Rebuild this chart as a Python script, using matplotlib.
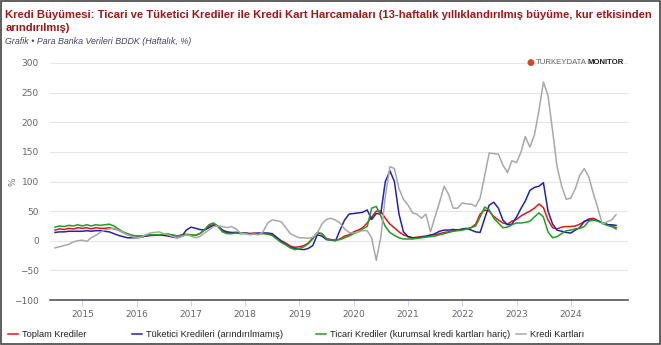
import matplotlib
matplotlib.use("Agg")
import matplotlib.pyplot as plt
import matplotlib.dates as mdates
from matplotlib.patches import Rectangle
import pandas as pd

# ---- data (monthly readings, Jul 2014 - Nov 2024) ----
dates = pd.date_range("2014-07-01", "2024-11-01", freq="MS")

toplam = [
    18, 20, 19, 21, 20, 22,
    21, 22, 20, 22, 21, 21, 22, 20, 18, 14, 11, 9,
    8, 7, 8, 9, 9, 10, 10, 11, 9, 8, 10, 11,
    10, 9, 12, 18, 25, 27, 24, 16, 13, 13, 14, 13,
    13, 12, 13, 12, 13, 12, 10, 5, 0, -4, -9, -11,
    -10, -8, -4, 5, 13, 12, 4, 2, 1, 3, 8, 10,
    15, 18, 22, 30, 40, 50, 50, 38, 28, 22, 15, 10,
    7, 5, 6, 7, 8, 10, 10, 12, 14, 15, 17, 18,
    19, 20, 22, 28, 45, 52, 50, 41, 35, 30, 28, 33,
    36, 42, 46, 50, 55, 62, 56, 35, 22, 20, 23, 24,
    24, 25, 28, 32, 37, 38, 34, 30, 28, 25, 22,
]
tuketici = [
    14, 15, 15, 16, 16, 16,
    16, 17, 16, 17, 17, 16, 15, 12, 9, 7, 5, 5,
    5, 6, 8, 9, 10, 10, 9, 8, 6, 5, 8, 18,
    23, 21, 19, 18, 22, 26, 25, 18, 15, 14, 14, 13,
    13, 12, 12, 13, 13, 13, 12, 6, -1, -6, -11, -13,
    -14, -15, -13, -8, 10, 8, 2, 1, 0, 18, 35, 45,
    46, 47, 48, 52, 36, 46, 45, 100, 118, 100, 45, 15,
    7, 5, 5, 6, 7, 9, 12, 16, 18, 18, 19, 18,
    20, 21, 18, 15, 14, 38, 60, 65, 55, 35, 27, 28,
    40, 55, 67, 85, 90, 92, 98, 50, 28, 18, 16, 14,
    13, 18, 22, 33, 35, 35, 34, 30, 27, 27, 26,
]
ticari = [
    23, 25, 24, 26, 25, 27,
    25, 27, 25, 27, 26, 27, 28, 25, 20, 15, 12, 9,
    8, 8, 9, 10, 10, 10, 11, 11, 10, 8, 9, 10,
    10, 9, 12, 18, 27, 30, 25, 15, 12, 12, 13, 12,
    12, 11, 12, 11, 12, 11, 9, 3, -3, -7, -12, -15,
    -13, -10, -5, 3, 14, 12, 3, 1, 1, 2, 5, 8,
    12, 15, 20, 24, 55, 58, 42, 24, 14, 9, 5, 3,
    3, 3, 4, 5, 6, 7, 8, 10, 12, 14, 16, 17,
    18, 20, 22, 25, 40, 57, 52, 38, 30, 22, 23, 27,
    30, 30, 31, 33, 40, 47, 40, 15, 5, 7, 12, 17,
    18, 20, 21, 24, 33, 35, 33, 30, 26, 24, 20,
]
kredi_kartlari = [
    -12, -10, -8, -6, -2, 0,
    1, -1, 5, 9, 14, 18, 20, 21, 18, 14, 10, 7,
    5, 6, 10, 13, 14, 15, 12, 10, 7, 5, 7, 10,
    8, 5, 7, 13, 18, 24, 25, 24, 22, 24, 20, 13,
    12, 10, 11, 10, 15, 30, 35, 34, 32, 22, 12, 8,
    5, 5, 4, 6, 13, 28, 36, 38, 35, 30, 20, 14,
    13, 15, 17, 17, 5, -33, 5, 75, 125, 122, 88, 70,
    60, 47, 45, 38, 45, 15, 40, 65, 92, 78, 55, 55,
    64, 62, 62, 58, 72, 110, 148, 147, 146, 128, 115, 135,
    132, 150, 176, 158, 178, 220, 268, 245, 185, 125, 92, 70,
    72, 88, 110, 122, 108, 80, 55, 28, 32, 35, 44,
]

series_names = ["Toplam Krediler",
                "Tüketici Kredileri (arındırılmamış)",
                "Ticari Krediler (kurumsal kredi kartları hariç)",
                "Kredi Kartları"]
series_values = [toplam, tuketici, ticari, kredi_kartlari]
series_colors = ["#e8141c", "#2323a8", "#1f9e1f", "#a8a8a8"]

year_ticks = list(range(2015, 2025))
y_ticks = [-100, -50, 0, 50, 100, 150, 200, 250, 300]

title = ("Kredi Büyümesi: Ticari ve Tüketici Krediler ile Kredi Kart Harcamaları "
         "(13-haftalık yıllıklandırılmış büyüme, kur etkisinden\narındırılmış)")
subtitle = "Grafik • Para Banka Verileri BDDK (Haftalık, %)"

# ---- figure ----
fig = plt.figure(figsize=(6.61, 3.45), dpi=100)
ax = fig.add_axes([0.0756, 0.1304, 0.8744, 0.687])

lines = []
for name, vals, col in zip(series_names, series_values, series_colors):
    ln, = ax.plot(dates, vals, color=col, lw=1.1, label=name)
    lines.append(ln)

ax.set_ylim(-100, 300)
ax.set_yticks(y_ticks)
ax.set_xlim(pd.Timestamp("2014-05-28"), pd.Timestamp("2025-01-20"))
ax.set_xticks([pd.Timestamp(f"{y}-01-01") for y in year_ticks])
ax.xaxis.set_major_formatter(mdates.DateFormatter("%Y"))

ax.grid(axis="y", color="#e6e6e6", lw=0.8)
ax.set_axisbelow(True)
for s in ["top", "right", "left"]:
    ax.spines[s].set_visible(False)
ax.spines["bottom"].set_color("#555555")
ax.spines["bottom"].set_linewidth(1.2)
ax.tick_params(axis="y", length=0, labelsize=6.5, labelcolor="#666666", pad=8)
ax.tick_params(axis="x", length=4, color="#ccd6eb", labelsize=6.5,
               labelcolor="#666666", pad=3)
ax.set_ylabel("%", fontsize=6.5, color="#777777")
ax.yaxis.set_label_coords(-0.056, 0.5)

fig.text(0.008, 0.972, title, fontsize=8.1, fontweight="bold", color="#9a1a1a",
         family="Liberation Sans", va="top", linespacing=1.45)
fig.text(0.008, 0.88, subtitle, fontsize=6.4, style="italic", color="#444466",
         family="Liberation Sans", va="center")

# watermark
wm_y = 0.82
t2 = fig.text(0.943, wm_y, "MONITOR", fontsize=5.6, color="#222222", fontweight="bold",
              family="Liberation Sans", va="center", ha="right")
fig.canvas.draw()
bb = t2.get_window_extent().transformed(fig.transFigure.inverted())
t1 = fig.text(bb.x0, wm_y, "TURKEYDATA", fontsize=5.6, color="#666666",
              family="Liberation Sans", va="center", ha="right")
fig.canvas.draw()
bb1 = t1.get_window_extent().transformed(fig.transFigure.inverted())
fig.text(bb1.x0 - 0.003, wm_y, "●", fontsize=6.5, color="#d04a2a", va="center", ha="right")

# legend: one entry per slot along the bottom
legend_x = [8, 132, 316, 516]
for ln, lx in zip(lines, legend_x):
    leg = fig.legend(handles=[ln], loc="lower left",
                     bbox_to_anchor=(lx / 661, 0.016), frameon=False,
                     prop={"family": "Liberation Sans", "size": 6.7},
                     handlelength=1.1, handletextpad=0.45, borderpad=0,
                     borderaxespad=0, labelcolor="#222222")

fig.add_artist(Rectangle((0.0015, 0.003), 0.997, 0.994, transform=fig.transFigure,
                         fill=False, edgecolor="#444444", lw=1.2))

fig.savefig("out.png", dpi=100)
